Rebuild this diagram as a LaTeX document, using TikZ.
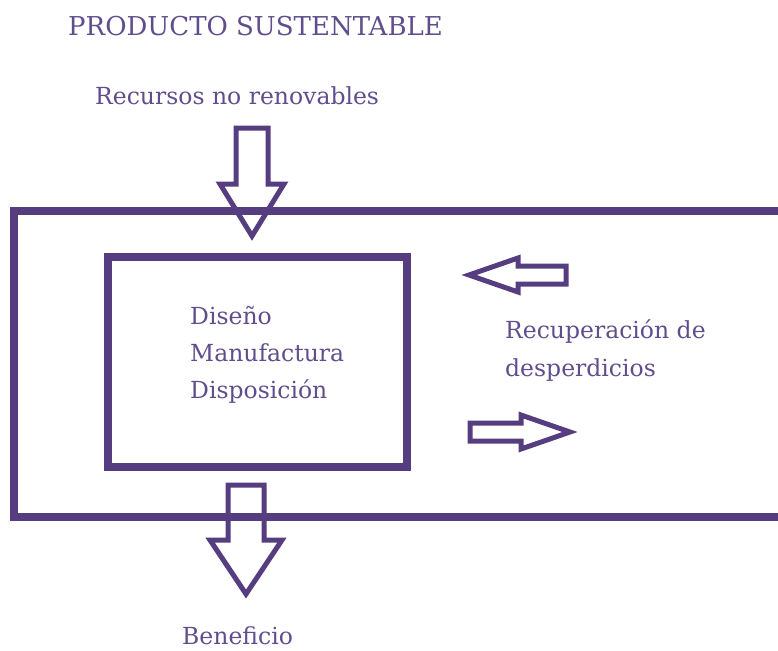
\documentclass[tikz,border=0pt]{standalone}
\usepackage{fontspec}
\setmainfont{DejaVu Serif}
\definecolor{morado}{RGB}{86,61,128}
\definecolor{texto}{RGB}{96,78,140}
\begin{document}
\begin{tikzpicture}[x=1pt, y=-1pt, line join=miter,
    caja/.style={draw=morado, line width=7.5pt},
    flecha/.style={draw=morado, line width=5pt, fill=white},
    etiqueta/.style={text=texto, font=\fontsize{23.5}{37}\selectfont, inner sep=0pt}]
\useasboundingbox (0,0) rectangle (778,650);
% flechas de entrada y salida
\draw[flecha](236,128)--(268,128)--(268,184)--(284,184)--(252,236)--(220,184)--(236,184)--cycle;
\draw[flecha](228,485)--(264,485)--(264,540)--(282,540)--(246,594)--(210,540)--(228,540)--cycle;
\draw[flecha](469,275)--(518,258)--(518,266)--(566,266)--(566,284)--(518,284)--(518,292)--cycle;
\draw[flecha](570,432)--(521,415)--(521,423)--(470,423)--(470,441)--(521,441)--(521,449)--cycle;
\draw[caja](778,211)--(14,211)--(14,517)--(778,517);
\draw[caja](108,257) rectangle (407,467);
% textos
\node[etiqueta, anchor=base west, font=\fontsize{26}{30}\selectfont] (titulo) at (68,36) {PRODUCTO SUSTENTABLE};
\node[etiqueta, anchor=base west] (recursos) at (95,105) {Recursos no renovables};
\node[etiqueta, anchor=north west, align=left] (proceso) at (190,306) {Diseño\\Manufactura\\Disposición};
\node[etiqueta, anchor=north west, align=left] (recuperacion) at (505,320) {Recuperación de\\desperdicios};
\node[etiqueta, anchor=base west] (beneficio) at (182,644) {Beneficio};
\end{tikzpicture}
\end{document}
